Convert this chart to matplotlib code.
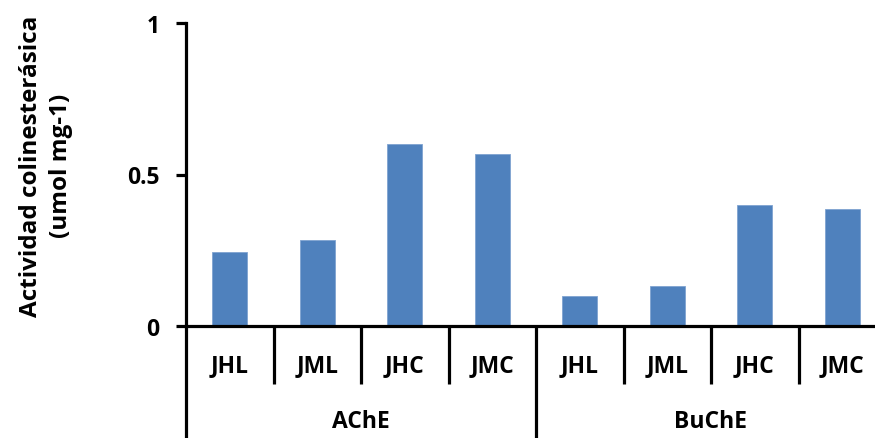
import matplotlib
matplotlib.use("Agg")
import matplotlib.pyplot as plt
from matplotlib.transforms import blended_transform_factory

groups = ["AChE", "BuChE"]
samples = ["JHL", "JML", "JHC", "JMC"]
ache = [0.244, 0.285, 0.601, 0.568]
buche = [0.099, 0.132, 0.399, 0.385]
yticks = [0, 0.5, 1]
ytick_labels = ["0", "0.5", "1"]
ylabel = "Actividad colinesterásica\n(umol mg-1)"

plt.rcParams['font.family'] = ['Open Sans', 'DejaVu Sans']
plt.rcParams['font.weight'] = 'bold'

fig = plt.figure(figsize=(8.75, 4.39), dpi=100)
ax = fig.add_axes([186/875, 112/439, 700/875, 303/439])

values = ache + buche
xs = list(range(len(values)))
ax.bar(xs, values, width=0.4, color="#4F81BD", edgecolor="#7FA3D1", linewidth=0.6, zorder=2)

ax.set_xlim(-0.5, 7.5)
ax.set_ylim(0, 1)
for s in ["top", "right"]:
    ax.spines[s].set_visible(False)
ax.spines["left"].set_linewidth(2.3)
ax.spines["bottom"].set_linewidth(2.3)
ax.set_xticks([])
ax.set_yticks(yticks)
ax.set_yticklabels(ytick_labels, fontsize=16.5, fontweight='bold')
ax.tick_params(axis='y', length=7, width=2.3, pad=12)

tr = blended_transform_factory(ax.transData, ax.transAxes)
ax.plot([-0.5, -0.5], [0, -0.38], transform=tr, color='black', lw=2.3, clip_on=False, solid_capstyle='butt')
for i in range(1, 8):
    xb = i - 0.5
    bottom = -0.38 if i == 4 else -0.19
    ax.plot([xb, xb], [0, bottom], transform=tr, color='black', lw=2.3, clip_on=False, solid_capstyle='butt')
ax.plot([7.5, 7.5], [0, -0.38], transform=tr, color='black', lw=2.3, clip_on=False, solid_capstyle='butt')

for i, x in enumerate(xs):
    ax.text(x, -0.128, samples[i % 4], transform=tr, ha='center', va='center', fontsize=16.5, fontweight='bold')
for g, name in enumerate(groups):
    ax.text(g * 4 + 1.5, -0.313, name, transform=tr, ha='center', va='center', fontsize=16.5, fontweight='bold')

fig.text(46/875, 1 - 166/439, ylabel, rotation=90, ha='center', va='center', fontsize=17.5, fontweight='bold',
         multialignment='center', linespacing=1.3)

fig.savefig("out.png", dpi=100)
